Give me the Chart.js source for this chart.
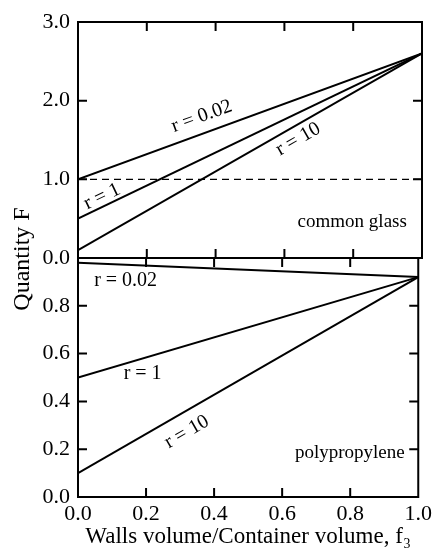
<!DOCTYPE html>
<html>
<head>
<meta charset="utf-8">
<script src="https://cdn.jsdelivr.net/npm/chart.js@4/dist/chart.umd.min.js"></script>
<style>
html, body { margin: 0; padding: 0; background: #fff; }
#wrap { position: relative; width: 436px; height: 551px; }
#wrap canvas { position: absolute; left: 0; top: 0; }
</style>
</head>
<body>
<div id="wrap">
<canvas id="glass" width="436" height="551"></canvas>
<canvas id="pp" width="436" height="551"></canvas>
</div>
<script>
// walls volume fraction f3 (the curves are straight lines, so two ends are enough)
var fValues = [0, 1];

// common glass (upper panel)
var glassR002 = [1.0, 2.6];
var glassR1 = [0.5, 2.6];
var glassR10 = [0.1, 2.6];
var glassRef = [1.0, 1.0];

// polypropylene (lower panel)
var ppR002 = [0.98, 0.92];
var ppR1 = [0.5, 0.92];
var ppR10 = [0.1, 0.92];

// tick values
var xTicks = [0, 0.2, 0.4, 0.6, 0.8, 1.0];
var glassTicks = [0, 1, 2, 3];
var ppTicks = [0, 0.2, 0.4, 0.6, 0.8];

Chart.defaults.font.family = "'Liberation Serif', 'Times New Roman', serif";
Chart.defaults.color = '#000';

function pts(ys) {
	return fValues.map(function(f, i) {
		return {x: f, y: ys[i]};
	});
}

function line(ys, dash) {
	return {
		data: pts(ys),
		borderColor: '#000',
		borderWidth: dash ? 1.3 : 2,
		borderDash: dash || [],
		pointRadius: 0,
		fill: false,
		tension: 0
	};
}

function setTicks(values) {
	return function(scale) {
		scale.ticks = values.map(function(v) { return {value: v}; });
	};
}

// box around the plot area with short inward tick marks on all four sides
function framePlugin(xt, yt) {
	return {
		id: 'frame',
		afterDraw: function(chart) {
			var ctx = chart.ctx, a = chart.chartArea;
			var xs = chart.scales.x, ys = chart.scales.y;
			var len = 9;
			ctx.save();
			ctx.strokeStyle = '#000';
			ctx.lineWidth = 2;
			ctx.strokeRect(a.left, a.top, a.right - a.left, a.bottom - a.top);
			ctx.beginPath();
			xt.forEach(function(v) {
				if (v <= xs.min || v >= xs.max) return;
				var px = xs.getPixelForValue(v);
				ctx.moveTo(px, a.top); ctx.lineTo(px, a.top + len);
				ctx.moveTo(px, a.bottom); ctx.lineTo(px, a.bottom - len);
			});
			yt.forEach(function(v) {
				if (v <= ys.min || v >= ys.max) return;
				var py = ys.getPixelForValue(v);
				ctx.moveTo(a.left, py); ctx.lineTo(a.left + len, py);
				ctx.moveTo(a.right, py); ctx.lineTo(a.right - len, py);
			});
			ctx.stroke();
			ctx.restore();
		}
	};
}

// text labels placed in data units, optionally turned along a dataset line
function notePlugin(notes) {
	return {
		id: 'notes',
		afterDatasetsDraw: function(chart) {
			var ctx = chart.ctx;
			var xs = chart.scales.x, ys = chart.scales.y;
			ctx.save();
			ctx.fillStyle = '#000';
			notes.forEach(function(n) {
				var angle = 0;
				if (n.along != null) {
					var d = chart.data.datasets[n.along].data;
					angle = Math.atan2(ys.getPixelForValue(d[1].y) - ys.getPixelForValue(d[0].y),
						xs.getPixelForValue(d[1].x) - xs.getPixelForValue(d[0].x));
				}
				ctx.save();
				ctx.translate(xs.getPixelForValue(n.x), ys.getPixelForValue(n.y));
				ctx.rotate(angle);
				ctx.font = (n.size || 20) + "px 'Liberation Serif', 'Times New Roman', serif";
				ctx.textAlign = n.align || 'center';
				ctx.textBaseline = 'middle';
				ctx.fillText(n.text, 0, 0);
				ctx.restore();
			});
			if (chart.options.yTitle) {
				ctx.save();
				ctx.font = "24px 'Liberation Serif', 'Times New Roman', serif";
				ctx.translate(29, chart.chartArea.top + 1);
				ctx.rotate(-Math.PI / 2);
				ctx.textAlign = 'center';
				ctx.textBaseline = 'alphabetic';
				ctx.fillText(chart.options.yTitle, 0, 0);
				ctx.restore();
			}
			ctx.restore();
		}
	};
}

var glassNotes = [
	{text: 'r = 0.02', x: 0.36, y: 1.8, along: 0},
	{text: 'r = 1', x: 0.07, y: 0.78, along: 1},
	{text: 'r = 10', x: 0.64, y: 1.51, along: 2},
	{text: 'common glass', x: 0.956, y: 0.46, align: 'right', size: 19}
];

var ppNotes = [
	{text: 'r = 0.02', x: 0.14, y: 0.905},
	{text: 'r = 1', x: 0.19, y: 0.517},
	{text: 'r = 10', x: 0.32, y: 0.272, along: 2},
	{text: 'polypropylene', x: 0.96, y: 0.184, align: 'right', size: 19}
];

new Chart(document.getElementById('glass'), {
	type: 'line',
	data: {
		datasets: [line(glassR002), line(glassR1), line(glassR10), line(glassRef, [7, 5])]
	},
	options: {
		responsive: false,
		animation: false,
		layout: {padding: {top: 22, right: 14, bottom: 293, left: 0}},
		plugins: {legend: {display: false}, tooltip: {enabled: false}},
		scales: {
			x: {type: 'linear', min: 0, max: 1, display: false, afterBuildTicks: setTicks(xTicks)},
			y: {
				type: 'linear', min: 0, max: 3,
				grid: {display: false, drawTicks: false},
				border: {display: false},
				ticks: {padding: 8, font: {size: 22}, callback: function(v) { return v.toFixed(1); }},
				afterBuildTicks: setTicks(glassTicks),
				afterFit: function(s) { s.width = 78; }
			}
		}
	},
	plugins: [framePlugin(xTicks, glassTicks), notePlugin(glassNotes)]
});

new Chart(document.getElementById('pp'), {
	type: 'line',
	data: {
		datasets: [line(ppR002), line(ppR1), line(ppR10)]
	},
	options: {
		responsive: false,
		animation: false,
		yTitle: 'Quantity F',
		layout: {padding: {top: 258, right: 14, bottom: 0, left: 0}},
		plugins: {legend: {display: false}, tooltip: {enabled: false}},
		scales: {
			x: {
				type: 'linear', min: 0, max: 1,
				grid: {display: false, drawTicks: false},
				border: {display: false},
				ticks: {padding: 4, font: {size: 22}, maxRotation: 0, callback: function(v) { return v.toFixed(1); }},
				afterBuildTicks: setTicks(xTicks),
				title: {display: true, text: 'Walls volume/Container volume, f\u2083', font: {size: 23}, padding: 0},
				afterFit: function(s) { s.height = 54; }
			},
			y: {
				type: 'linear', min: 0, max: 1,
				grid: {display: false, drawTicks: false},
				border: {display: false},
				ticks: {padding: 8, font: {size: 22}, callback: function(v) { return v.toFixed(1); }},
				afterBuildTicks: setTicks(ppTicks),
				afterFit: function(s) { s.width = 78; }
			}
		}
	},
	plugins: [framePlugin(xTicks, ppTicks), notePlugin(ppNotes)]
});
</script>
</body>
</html>
